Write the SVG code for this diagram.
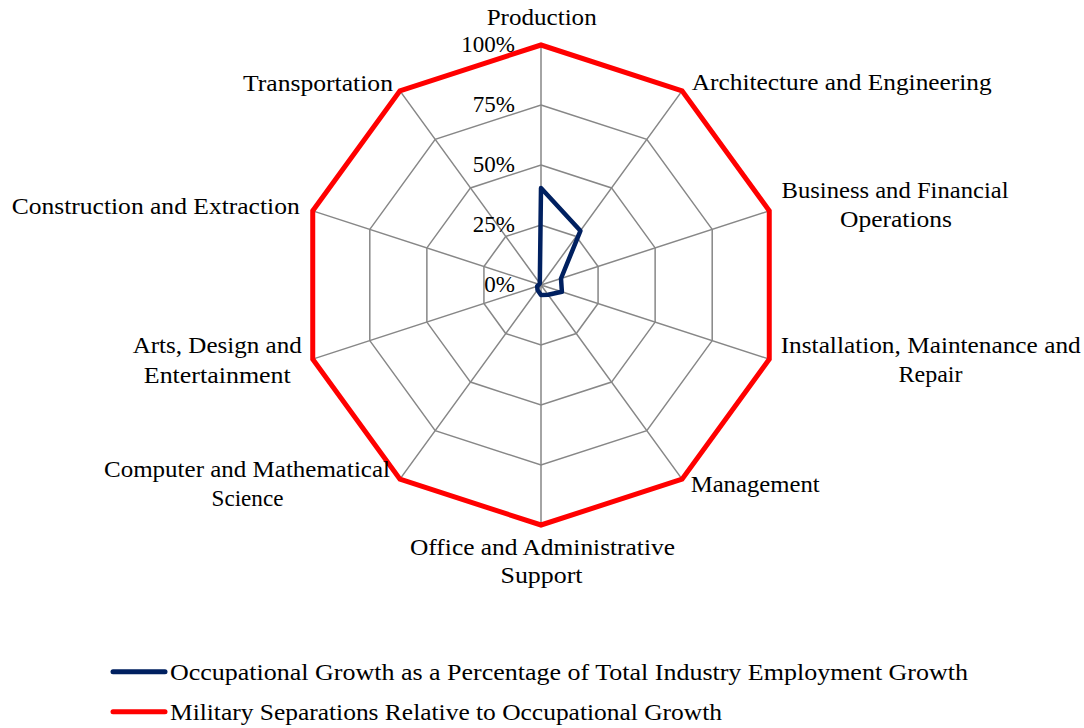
<svg xmlns="http://www.w3.org/2000/svg" width="1084" height="728" viewBox="0 0 1084 728">
<style>
.lbl{font-family:"Liberation Serif","Times New Roman",serif;font-size:23px;fill:#000}
.grid{fill:none;stroke:#878787;stroke-width:1.5}
.blue{fill:none;stroke:#002060;stroke-width:4.5;stroke-linejoin:round}
.red{fill:none;stroke:#ff0000;stroke-width:5}
</style>
<rect width="1084" height="728" fill="#fff"/>
<g id="grid">
<polygon class="grid" points="541,225 576.27,236.46 598.07,266.46 598.07,303.54 576.27,333.54 541,345 505.73,333.54 483.93,303.54 483.93,266.46 505.73,236.46"/>
<polygon class="grid" points="541,165 611.54,187.92 655.13,247.92 655.13,322.08 611.54,382.08 541,405 470.46,382.08 426.87,322.08 426.87,247.92 470.46,187.92"/>
<polygon class="grid" points="541,105 646.8,139.38 712.2,229.38 712.2,340.62 646.8,430.62 541,465 435.2,430.62 369.8,340.62 369.8,229.38 435.2,139.38"/>
<polygon class="grid" points="541,45 682.07,90.84 769.26,210.84 769.26,359.16 682.07,479.16 541,525 399.93,479.16 312.74,359.16 312.74,210.84 399.93,90.84"/>
<path class="grid" d="M541,285L541,45M541,285L682.07,90.84M541,285L769.26,210.84M541,285L769.26,359.16M541,285L682.07,479.16M541,285L541,525M541,285L399.93,479.16M541,285L312.74,359.16M541,285L312.74,210.84M541,285L399.93,90.84"/>
</g>
<g id="axis-labels">
<text class="lbl" x="515" y="52" text-anchor="end">100%</text>
<text class="lbl" x="515" y="112" text-anchor="end">75%</text>
<text class="lbl" x="515" y="172" text-anchor="end">50%</text>
<text class="lbl" x="515" y="232" text-anchor="end">25%</text>
<text class="lbl" x="515" y="292" text-anchor="end">0%</text>
</g>
<g id="connectors">
<polygon id="series-red" class="red" points="541,45 682.07,90.84 769.26,210.84 769.26,359.16 682.07,479.16 541,525 399.93,479.16 312.74,359.16 312.74,210.84 399.93,90.84"/>
<polygon id="series-blue" class="blue" points="541,188 580.4,230.8 561,278.5 561.9,291.8 548.1,294.7 541,295 537.5,289.9 537.2,286.2 539.1,284.4 539.8,283.4"/>
</g>
<g id="node-production"><text class="lbl" x="541.7" y="25" text-anchor="middle" textLength="110" lengthAdjust="spacingAndGlyphs">Production</text></g>
<g id="node-architecture"><text class="lbl" x="691.7" y="90" textLength="300" lengthAdjust="spacingAndGlyphs">Architecture  and Engineering</text></g>
<g id="node-business"><text class="lbl" x="895" y="198" text-anchor="middle" textLength="227" lengthAdjust="spacingAndGlyphs">Business and Financial</text><text class="lbl" x="896" y="227" text-anchor="middle" textLength="112" lengthAdjust="spacingAndGlyphs">Operations</text></g>
<g id="node-installation"><text class="lbl" x="930.7" y="353" text-anchor="middle" textLength="300" lengthAdjust="spacingAndGlyphs">Installation, Maintenance and</text><text class="lbl" x="930.5" y="382" text-anchor="middle" textLength="64" lengthAdjust="spacingAndGlyphs">Repair</text></g>
<g id="node-management"><text class="lbl" x="690.7" y="492" textLength="129" lengthAdjust="spacingAndGlyphs">Management</text></g>
<g id="node-office"><text class="lbl" x="542.5" y="555" text-anchor="middle" textLength="265" lengthAdjust="spacingAndGlyphs">Office and Administrative</text><text class="lbl" x="541.5" y="583" text-anchor="middle" textLength="82" lengthAdjust="spacingAndGlyphs">Support</text></g>
<g id="node-computer"><text class="lbl" x="247" y="477" text-anchor="middle" textLength="286" lengthAdjust="spacingAndGlyphs">Computer and Mathematical</text><text class="lbl" x="247.5" y="506" text-anchor="middle" textLength="72" lengthAdjust="spacingAndGlyphs">Science</text></g>
<g id="node-arts"><text class="lbl" x="217.2" y="353" text-anchor="middle" textLength="169" lengthAdjust="spacingAndGlyphs">Arts, Design and</text><text class="lbl" x="217.3" y="383" text-anchor="middle" textLength="147" lengthAdjust="spacingAndGlyphs">Entertainment</text></g>
<g id="node-construction"><text class="lbl" x="11.7" y="214" textLength="288" lengthAdjust="spacingAndGlyphs">Construction and Extraction</text></g>
<g id="node-transportation"><text class="lbl" x="243" y="91" textLength="150" lengthAdjust="spacingAndGlyphs">Transportation</text></g>
<g id="legend">
<line x1="113" y1="671.7" x2="165" y2="671.7" stroke="#002060" stroke-width="5" stroke-linecap="round"/>
<text class="lbl" x="170" y="680" textLength="798" lengthAdjust="spacingAndGlyphs">Occupational Growth as a Percentage  of Total Industry Employment Growth</text>
<line x1="113" y1="711.7" x2="165" y2="711.7" stroke="#ff0000" stroke-width="5" stroke-linecap="round"/>
<text class="lbl" x="170" y="720" textLength="552" lengthAdjust="spacingAndGlyphs">Military Separations  Relative to Occupational  Growth</text>
</g>
</svg>
